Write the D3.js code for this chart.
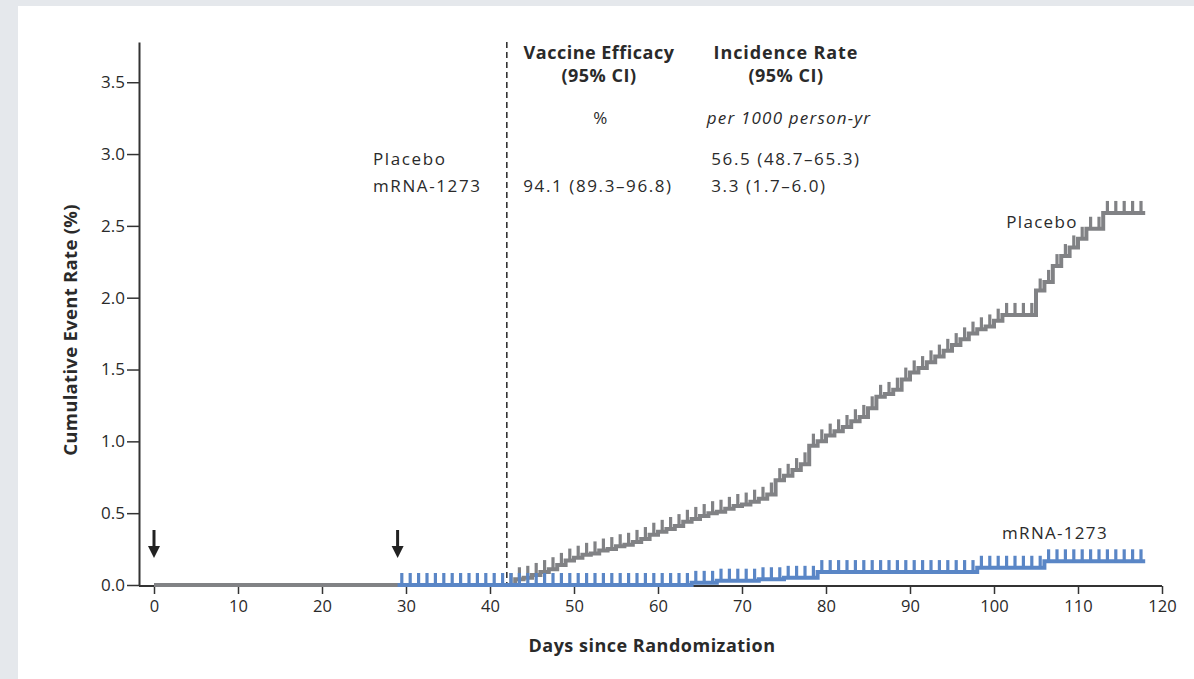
<!DOCTYPE html>
<html>
<head>
<meta charset="utf-8">
<script src="https://cdn.jsdelivr.net/npm/d3@7"></script>
<style>
body { margin: 0; background: #e5e8ec; }
svg { display: block; }
text { font-family: "Open Sans", Lato, sans-serif; fill: #2a2a2a; }
</style>
</head>
<body>
<script>
// axis ticks
var xTicks = [0, 10, 20, 30, 40, 50, 60, 70, 80, 90, 100, 110, 120];
var yTicks = [0, 0.5, 1.0, 1.5, 2.0, 2.5, 3.0, 3.5];

// placebo: cumulative event rate (%) after each step day
var placeboDays = [0, 42, 43, 44, 45, 46, 47, 48, 49, 50, 51, 52, 53, 54, 55, 56, 57, 58, 59, 60,
    61, 62, 63, 64, 65, 66, 67, 68, 69, 70, 71, 72, 73, 74, 75, 76, 77, 78, 79, 80,
    81, 82, 83, 84, 85, 86, 87, 88, 89, 90, 91, 92, 93, 94, 95, 96, 97, 98, 99, 100,
    101, 105, 106, 107, 108, 109, 110, 111, 113, 118];
var placeboRate = [0, 0, 0.04, 0.05, 0.07, 0.09, 0.11, 0.14, 0.17, 0.19, 0.21, 0.22, 0.24, 0.25, 0.27, 0.28, 0.30, 0.32, 0.35, 0.37,
    0.39, 0.41, 0.44, 0.46, 0.48, 0.50, 0.51, 0.53, 0.55, 0.56, 0.58, 0.60, 0.63, 0.73, 0.76, 0.80, 0.84, 0.97, 1.00, 1.04,
    1.07, 1.10, 1.14, 1.17, 1.23, 1.31, 1.33, 1.36, 1.43, 1.48, 1.51, 1.55, 1.59, 1.63, 1.67, 1.71, 1.75, 1.78, 1.80, 1.84,
    1.88, 2.05, 2.11, 2.22, 2.29, 2.35, 2.41, 2.48, 2.59, 2.59];

// mRNA-1273
var vaccineDays = [29, 64, 67, 72, 75, 79, 98, 106, 118];
var vaccineRate = [0, 0.015, 0.03, 0.04, 0.05, 0.09, 0.12, 0.165, 0.165];

// censoring marks (days)
var placeboCensor = [42.5, 43.5, 44.5, 45.5, 46.5, 47.5, 48.5, 49.5, 50.5, 51.5, 52.5, 53.5, 54.5, 55.5, 56.5,
    57.5, 58.5, 59.5, 60.5, 61.5, 62.5, 63.5, 64.5, 65.5, 66.5, 67.5, 68.5, 69.5, 70.5, 71.5, 72.5, 73.5,
    74.5, 75.5, 76.5, 77.5, 78.5, 79.5, 80.5, 81.5, 82.5, 83.5, 84.5, 85.5, 86.5, 87.5, 88.5, 89.5, 90.5,
    91.5, 92.5, 93.5, 94.5, 95.5, 96.5, 97.5, 98.5, 99.5, 100.5, 101.5, 102.5, 103.5, 104.5, 105.5, 106.5,
    107.5, 108.5, 109.5, 110.5, 111.5, 112.5, 113.5, 114.5, 115.5, 116.5, 117.5];
var vaccineCensor = [29.5, 30.5, 31.5, 32.5, 33.5, 34.5, 35.5, 36.5, 37.5, 38.5, 39.5, 40.5, 41.5,
    42.5, 43.5, 44.5, 45.5, 46.5, 47.5, 48.5, 49.5, 50.5, 51.5, 52.5, 53.5, 54.5, 55.5, 56.5,
    57.5, 58.5, 59.5, 60.5, 61.5, 62.5, 63.5, 64.5, 65.5, 66.5, 67.5, 68.5, 69.5, 70.5, 71.5, 72.5, 73.5,
    74.5, 75.5, 76.5, 77.5, 78.5, 79.5, 80.5, 81.5, 82.5, 83.5, 84.5, 85.5, 86.5, 87.5, 88.5, 89.5, 90.5,
    91.5, 92.5, 93.5, 94.5, 95.5, 96.5, 97.5, 98.5, 99.5, 100.5, 101.5, 102.5, 103.5, 104.5, 105.5, 106.5,
    107.5, 108.5, 109.5, 110.5, 111.5, 112.5, 113.5, 114.5, 115.5, 116.5, 117.5];

var arrowDays = [0, 29];     // dose arrows
var cutoffDay = 42;          // dashed line

var placeboColor = "#818285";
var vaccineColor = "#5a86c6";

var svg = d3.select("body")
    .append("svg")
    .attr("width", 1194)
    .attr("height", 679);

svg.append("rect").attr("width", 1194).attr("height", 679).attr("fill", "#e5e8ec");
svg.append("rect").attr("x", 18).attr("y", 6).attr("width", 1176).attr("height", 673).attr("fill", "#ffffff");

var x = d3.scaleLinear().domain([0, 120]).range([154, 1162]);
var y = d3.scaleLinear().domain([0, 3.78]).range([585, 42]);

// y axis
var yAxis = svg.append("g")
    .attr("transform", "translate(139,0)")
    .call(d3.axisLeft(y).tickValues(yTicks).tickFormat(d3.format(".1f")).tickSize(12).tickSizeOuter(0).tickPadding(2));
yAxis.select(".domain").attr("stroke", "#333").attr("stroke-width", 2);
yAxis.selectAll(".tick line").attr("stroke", "#333").attr("stroke-width", 1.5);
yAxis.selectAll(".tick text").attr("font-size", 17).style("font-family", "'Open Sans', sans-serif")
    .attr("fill", "#2a2a2a");

// x axis
var xAxis = svg.append("g")
    .attr("transform", "translate(0,586)")
    .call(d3.axisBottom(x).tickValues(xTicks).tickSize(8).tickSizeOuter(0).tickPadding(6));
xAxis.select(".domain").remove();
xAxis.append("line").attr("x1", 139).attr("x2", x(120)).attr("stroke", "#333").attr("stroke-width", 2);
xAxis.selectAll(".tick line").attr("stroke", "#333").attr("stroke-width", 1.5);
xAxis.selectAll(".tick text").attr("font-size", 16.5).style("font-family", "'Open Sans', sans-serif")
    .attr("fill", "#2a2a2a");

// axis titles
svg.append("text")
    .attr("transform", "translate(77,330) rotate(-90)")
    .attr("text-anchor", "middle")
    .attr("font-weight", "bold")
    .attr("font-size", 18.5)
    .attr("letter-spacing", 0.3)
    .text("Cumulative Event Rate (%)");
svg.append("text")
    .attr("x", 652).attr("y", 652)
    .attr("text-anchor", "middle")
    .attr("font-weight", "bold")
    .attr("font-size", 18)
    .attr("letter-spacing", 0.5)
    .text("Days since Randomization");

// dashed cutoff line
svg.append("line")
    .attr("x1", x(cutoffDay)).attr("x2", x(cutoffDay))
    .attr("y1", y(3.78)).attr("y2", y(0))
    .attr("stroke", "#333").attr("stroke-width", 1.6)
    .attr("stroke-dasharray", "6,4");

function rateAt(days, rates, t) {
    return rates[Math.max(0, d3.bisectRight(days, t) - 1)];
}

var line = d3.line()
    .x(function(d) { return x(d[0]); })
    .y(function(d) { return y(d[1]); })
    .curve(d3.curveStepAfter);

function drawCurve(days, rates, censor, color) {
    var pts = days.map(function(d, i) { return [d, rates[i]]; });
    var g = svg.append("g");
    g.append("path")
        .attr("d", line(pts))
        .attr("fill", "none")
        .attr("stroke", color)
        .attr("stroke-width", 4);
    g.selectAll("line")
        .data(censor)
        .enter()
        .append("line")
        .attr("x1", function(d) { return x(d); })
        .attr("x2", function(d) { return x(d); })
        .attr("y1", function(d) { return y(rateAt(days, rates, d)) + 1; })
        .attr("y2", function(d) { return y(rateAt(days, rates, d)) - 12; })
        .attr("stroke", color)
        .attr("stroke-width", 3.2);
}

drawCurve(placeboDays, placeboRate, placeboCensor, placeboColor);
drawCurve(vaccineDays, vaccineRate, vaccineCensor, vaccineColor);

// dose arrows
var arrows = svg.selectAll(".arrow")
    .data(arrowDays)
    .enter()
    .append("g")
    .attr("transform", function(d) { return "translate(" + x(d) + "," + (y(0) - 55) + ")"; });
arrows.append("line")
    .attr("x1", 0).attr("x2", 0).attr("y1", 0).attr("y2", 18)
    .attr("stroke", "#222").attr("stroke-width", 3);
arrows.append("path")
    .attr("d", "M-6,16 L6,16 L0,28 Z")
    .attr("fill", "#222");

// table + labels
function txt(xp, yp, s, opts) {
    opts = opts || {};
    svg.append("text")
        .attr("x", xp).attr("y", yp)
        .attr("text-anchor", opts.anchor || "middle")
        .attr("font-size", opts.size || 17)
        .attr("letter-spacing", opts.ls === undefined ? 1.6 : opts.ls)
        .attr("font-weight", opts.bold ? "bold" : null)
        .attr("font-style", opts.italic ? "italic" : null)
        .text(s);
}
txt(1042, 228, "Placebo", {ls: 1.3});
txt(1055, 539, "mRNA-1273", {ls: 1.3});

txt(599, 59, "Vaccine Efficacy", {bold: true, size: 18, ls: 0.5});
txt(599, 82, "(95% CI)", {bold: true, size: 18, ls: 0.5});
txt(786, 59, "Incidence Rate", {bold: true, size: 18, ls: 0.9});
txt(786, 82, "(95% CI)", {bold: true, size: 18, ls: 0.5});
txt(601, 124, "%");
txt(789, 124, "per 1000 person-yr", {italic: true, ls: 1.2});
txt(373, 165, "Placebo", {anchor: "start"});
txt(373, 192, "mRNA-1273", {anchor: "start"});
txt(786, 165, "56.5 (48.7\u201365.3)");
txt(769, 192, "3.3 (1.7\u20136.0)");
txt(598, 192, "94.1 (89.3\u201396.8)");
</script>
</body>
</html>
